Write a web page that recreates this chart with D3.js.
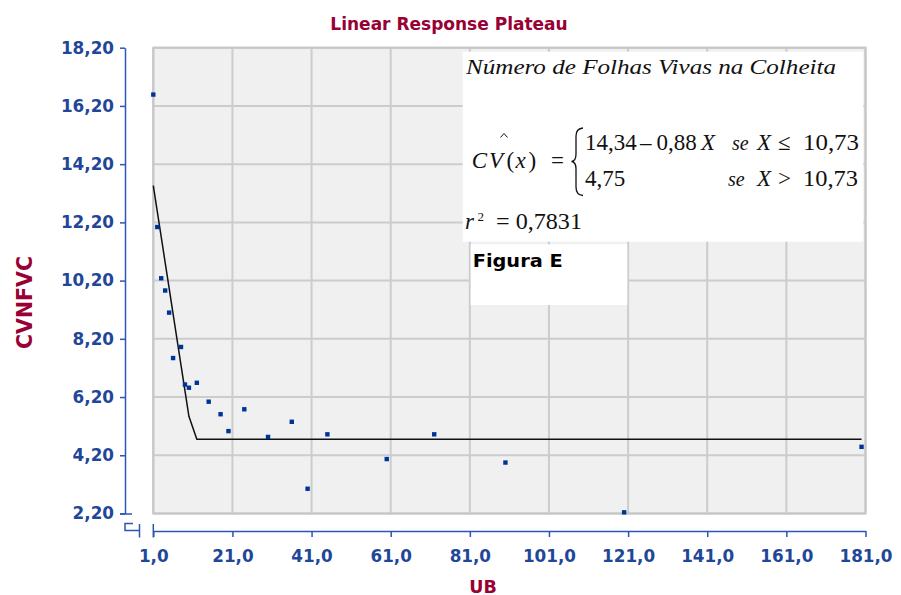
<!DOCTYPE html>
<html>
<head>
<meta charset="utf-8">
<script src="https://cdn.jsdelivr.net/npm/d3@7"></script>
<style>
  body { margin: 0; background: #fff; }
  svg { display: block; }
  .tick text { font-family: "DejaVu Sans", sans-serif; font-weight: bold; font-size: 16.8px; fill: #1f4799; }
  .axis path, .axis line { stroke: #2d55b4; stroke-width: 1.5px; }
</style>
</head>
<body>
<svg id="chart" width="901" height="595"></svg>
<script>
// Observed points (UB x CVNFVC)
const ubValues = [1, 2, 3, 4, 5, 6, 8, 9, 10, 12, 15, 18, 20, 24, 30, 36, 40, 45, 60, 72, 90, 120, 180];
const cvValues = [16.59, 12.04, 10.28, 9.86, 9.10, 7.54, 7.92, 6.63, 6.52, 6.69, 6.04, 5.61, 5.03, 5.78, 4.83, 5.35, 3.05, 4.92, 4.07, 4.92, 3.95, 2.24, 4.49];
// Fitted plateau curve, as plotted at the observed x values
const fitValues = [13.46, 12.58, 11.70, 10.82, 9.94, 9.06, 7.30, 6.42, 5.54, 4.75, 4.75, 4.75, 4.75, 4.75, 4.75, 4.75, 4.75, 4.75, 4.75, 4.75, 4.75, 4.75, 4.75];
const xTicks = [1, 21, 41, 61, 81, 101, 121, 141, 161, 181];
const yTicks = [2.2, 4.2, 6.2, 8.2, 10.2, 12.2, 14.2, 16.2, 18.2];

const svg = d3.select('#chart');
const plotL = 153.3, plotR = 865.5, plotT = 47.7, plotB = 513.5;

const x = d3.scaleLinear().domain([1, 181]).range([plotL, plotR]);
const y = d3.scaleLinear().domain([2.2, 18.2]).range([plotB, plotT]);
const comma = v => v.toFixed(0) + ',0';
const comma2 = v => v.toFixed(2).replace('.', ',');

// plot background + grid
svg.append('rect')
    .attr('x', plotL).attr('y', plotT)
    .attr('width', plotR - plotL).attr('height', plotB - plotT)
    .attr('fill', '#f0f0f0');

svg.append('g').selectAll('line')
    .data(xTicks)
    .enter()
    .append('line')
    .attr('x1', d => x(d)).attr('x2', d => x(d))
    .attr('y1', plotT).attr('y2', plotB)
    .attr('stroke', '#cccccc').attr('stroke-width', 2);

svg.append('g').selectAll('line')
    .data(yTicks)
    .enter()
    .append('line')
    .attr('x1', plotL).attr('x2', plotR)
    .attr('y1', d => y(d)).attr('y2', d => y(d))
    .attr('stroke', '#cccccc').attr('stroke-width', 2);

svg.append('rect')
    .attr('x', plotL).attr('y', plotT)
    .attr('width', plotR - plotL).attr('height', plotB - plotT)
    .attr('fill', 'none').attr('stroke', '#c6c6c6').attr('stroke-width', 2);

// axes
svg.append('g')
    .attr('class', 'axis')
    .attr('transform', 'translate(125,0)')
    .call(d3.axisLeft(y).tickValues(yTicks).tickFormat(comma2).tickSize(5).tickSizeOuter(0).tickPadding(6));

svg.append('g')
    .attr('class', 'axis')
    .attr('transform', 'translate(0,531)')
    .call(d3.axisBottom(x).tickValues(xTicks).tickFormat(comma).tickSize(6).tickSizeOuter(0).tickPadding(13));

// axis break marks
const brk = svg.append('g').attr('fill', 'none').attr('stroke', '#2d55b4').attr('stroke-width', 1.5);
brk.append('line').attr('x1', 120).attr('x2', 132).attr('y1', 514).attr('y2', 514);
brk.append('path').attr('d', 'M133,523.5 H125 V530.5 H139.5');
brk.append('line').attr('x1', 139.5).attr('x2', 139.5).attr('y1', 524).attr('y2', 537.5);
brk.append('line').attr('x1', plotL).attr('x2', plotL).attr('y1', 524).attr('y2', 537.5);

// fitted line
const line = d3.line()
    .x((d, i) => x(ubValues[i]))
    .y(d => y(d));

svg.append('path')
    .datum(fitValues)
    .attr('d', line)
    .attr('fill', 'none')
    .attr('stroke', '#111')
    .attr('stroke-width', 1.5);

// points
svg.append('g').selectAll('rect')
    .data(ubValues)
    .enter()
    .append('rect')
    .attr('x', d => x(d) - 2.2)
    .attr('y', (d, i) => y(cvValues[i]) - 2.2)
    .attr('width', 4.4).attr('height', 4.4)
    .attr('fill', '#003399');

// titles
svg.append('text')
    .attr('x', 449).attr('y', 30)
    .attr('text-anchor', 'middle')
    .attr('font-family', 'DejaVu Sans, sans-serif').attr('font-weight', 'bold').attr('font-size', 17)
    .attr('fill', '#990033')
    .text('Linear Response Plateau');

svg.append('text')
    .attr('x', 483).attr('y', 592.5)
    .attr('text-anchor', 'middle')
    .attr('font-family', 'DejaVu Sans, sans-serif').attr('font-weight', 'bold').attr('font-size', 17.5)
    .attr('fill', '#990033')
    .text('UB');

svg.append('text')
    .attr('transform', 'translate(31.5,302.5) rotate(-90)')
    .attr('text-anchor', 'middle')
    .attr('font-family', 'DejaVu Sans, sans-serif').attr('font-weight', 'bold').attr('font-size', 20.5)
    .attr('fill', '#990033')
    .text('CVNFVC');

// equation box
svg.append('rect').attr('x', 462.7).attr('y', 51.7).attr('width', 400.6).attr('height', 190).attr('fill', '#fff');
svg.append('rect').attr('x', 470.7).attr('y', 244.3).attr('width', 156.6).attr('height', 60.7).attr('fill', '#fff');

const eq = svg.append('g')
    .attr('font-family', '"Liberation Serif", "DejaVu Serif", serif')
    .attr('font-size', 23)
    .attr('fill', '#111');

function put(px, py, str, italic, len) {
    const t = eq.append('text')
        .attr('x', px).attr('y', py)
        .attr('font-style', italic ? 'italic' : 'normal')
        .text(str);
    if (len) t.attr('textLength', len).attr('lengthAdjust', 'spacingAndGlyphs');
    return t;
}

put(466, 74, 'Número de Folhas Vivas na Colheita', true, 370).attr('font-size', 22);

put(471.7, 168, 'C', true);
put(489, 168, 'V', true);
put(506.5, 168, '(', false);
put(515.5, 168, 'x', true);
put(528.5, 168, ')', false);
put(551, 168, '=', false);
eq.append('path')
    .attr('d', 'M500.5,137.5 L504,133.5 L507.5,137.5')
    .attr('fill', 'none').attr('stroke', '#111').attr('stroke-width', 1);
eq.append('path')
    .attr('d', 'M583,128 Q576,128.5 576,136 L576,154 Q576,161 571.5,161.5 Q576,162 576,169 L576,187 Q576,195 583,195.5')
    .attr('fill', 'none').attr('stroke', '#111').attr('stroke-width', 1.3);

put(585, 150, '14,34', false);
put(640, 150, '–', false);
put(656.5, 150, '0,88', false);
put(701, 150, 'X', true);
put(732, 150, 'se', true).attr('font-size', 20);
put(757, 150, 'X', true);
put(778, 150, '≤', false);
put(803, 150, '10,73', false, 56);

put(585, 186, '4,75', false);
put(728, 186, 'se', true).attr('font-size', 20);
put(757, 186, 'X', true);
put(778, 186, '>', false);
put(803, 186, '10,73', false, 55);

put(465, 229, 'r', true);
put(477.5, 221, '2', false).attr('font-size', 13);
put(496, 229, '= 0,7831', false, 86);

svg.append('text')
    .attr('x', 472.7).attr('y', 266.5)
    .attr('font-family', 'DejaVu Sans, sans-serif').attr('font-weight', 'bold').attr('font-size', 18)
    .attr('textLength', 90).attr('lengthAdjust', 'spacingAndGlyphs')
    .attr('fill', '#000')
    .text('Figura E');
</script>
</body>
</html>
